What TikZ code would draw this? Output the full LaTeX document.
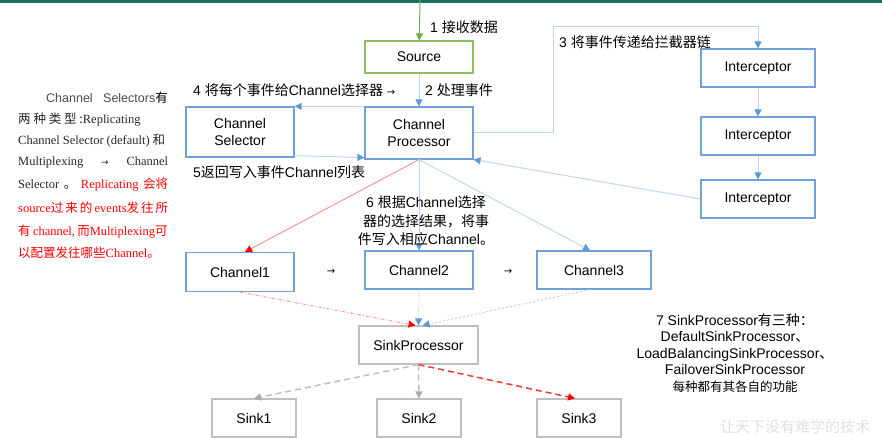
\documentclass[tikz,border=0pt]{standalone}
\usepackage{fontspec}
\setmainfont{Liberation Sans}
\newfontfamily\zh{Noto Sans CJK SC}
\newfontfamily\tm{Liberation Serif}
\newfontfamily\sym{DejaVu Sans}
\usetikzlibrary{arrows.meta}

\definecolor{boxblue}{RGB}{112,160,220}
\definecolor{lineblue}{RGB}{190,214,240}
\definecolor{tipblue}{RGB}{91,155,213}
\definecolor{boxgreen}{RGB}{140,192,98}
\definecolor{tipgreen}{RGB}{112,173,71}
\definecolor{boxgray}{RGB}{191,191,191}
\definecolor{tipgray}{RGB}{170,170,170}
\definecolor{linered}{RGB}{255,150,150}
\definecolor{topband}{RGB}{30,110,95}

\begin{document}
\begin{tikzpicture}[x=1pt,y=-1pt,
	box/.style={draw=boxblue,line width=1.2pt,minimum width=108pt,minimum height=38pt,align=center,inner sep=2pt,font=\fontsize{14}{17}\selectfont},
	lab/.style={inner sep=0pt,font=\fontsize{14}{17}\selectfont},
	side/.style={inner sep=0pt,anchor=west,font=\fontsize{12.5}{15}\selectfont},
	tip/.style={-{Triangle[length=7pt,width=7pt,color=#1]}},
	greenarr/.style={draw=tipgreen,line width=1pt,tip=tipgreen},
	bluearr/.style={draw=lineblue,line width=1pt,tip=tipblue},
	redarr/.style={draw=linered,line width=1pt,tip=red},
	bluedot/.style={bluearr,dash pattern=on 2pt off 2pt},
	reddot/.style={redarr,dash pattern=on 3pt off 2pt on 1pt off 2pt},
	graydash/.style={draw=boxgray,line width=1.5pt,dash pattern=on 6pt off 4pt,tip=tipgray},
	reddash/.style={draw=red!80,line width=1.5pt,dash pattern=on 6pt off 4pt,tip=red}]
	\useasboundingbox (0,0) rectangle (882,438);
	\fill[topband] (0,0) rectangle (882,3);

	\node[box,draw=boxgreen,minimum height=32pt] (src) at (419,57) {Source};
	\node[box,minimum height=50pt] (sel) at (240,132) {Channel\\Selector};
	\node[box,minimum height=52pt] (proc) at (419,133) {Channel\\Processor};
	\node[box,minimum width=114pt] (i1) at (758,68) {Interceptor};
	\node[box,minimum width=114pt] (i2) at (758,136) {Interceptor};
	\node[box,minimum width=114pt] (i3) at (758,199) {Interceptor};
	\node[box,minimum height=39pt] (c1) at (240,272) {Channel1};
	\node[box] (c2) at (419,270) {Channel2};
	\node[box,minimum width=114pt] (c3) at (594,270) {Channel3};
	\node[box,draw=boxgray,minimum width=119pt] (sp) at (418.5,345) {SinkProcessor};
	\node[box,draw=boxgray,minimum width=84pt] (s1) at (254,418) {Sink1};
	\node[box,draw=boxgray,minimum width=84pt] (s2) at (419,418) {Sink2};
	\node[box,draw=boxgray,minimum width=84pt] (s3) at (579,418) {Sink3};

	\coordinate (in) at (420,0);
	\coordinate (bend) at (553,27);

	\path (in) edge[greenarr] (src);
	\path (src) edge[bluearr] (proc);
	\path (proc.north west) edge[bluearr] (sel.north east);
	\path ([yshift=2pt]sel.south east) edge[bluearr] ([yshift=2pt]proc.south west);
	\draw[bluearr] (proc.east) -| (bend) -| (i1.north);
	\path (i1) edge[bluearr] (i2) (i2) edge[bluearr] (i3);
	\path (i3.west) edge[bluearr] (proc.south east);
	\path (proc.south) edge[redarr] ([xshift=5pt]c1.north);
	\path (proc.south) edge[bluearr] (c2.north) edge[bluearr] ([xshift=-4pt]c3.north);
	\path (c1.south) edge[reddot] ([xshift=-3pt]sp.north);
	\path (c2.south) edge[bluedot] (sp.north) ([xshift=-4pt]c3.south) edge[bluedot] ([xshift=4pt]sp.north);
	\path (sp.south) edge[graydash] (s1.north) edge[graydash] (s2.north);
	\path (sp.south) edge[reddash] ([xshift=-4pt]s3.north);

	\node[lab,anchor=west] (t1) at (430,27) {1 {\zh 接收数据}};
	\node[lab,anchor=west] (t2) at (425,90) {2 {\zh 处理事件}};
	\node[lab,anchor=west] (t3) at (559,42) {3 {\zh 将事件传递给拦截器链}};
	\node[lab,anchor=west] (t4) at (193,90) {4 {\zh 将每个事件给}Channel{\zh 选择器} {\sym\fontsize{10}{10}\selectfont →}};
	\node[lab,anchor=west] (t5) at (193,172) {5{\zh 返回写入事件}Channel{\zh 列表}};
	\node[lab,align=center,font=\fontsize{14}{18.5}\selectfont] (t6) at (426,221) {6 {\zh 根据}Channel{\zh 选择}\\{\zh 器的选择结果，将事}\\{\zh 件写入相应}Channel{\zh 。}};
	\node[lab,font=\sym\fontsize{10}{10}\selectfont] (a12) at (331,272) {→};
	\node[lab,font=\sym\fontsize{10}{10}\selectfont] (a23) at (508,272) {→};
	\node[lab,align=center,font=\fontsize{14}{16.5}\selectfont] (t7) at (735,353) {7 SinkProcessor{\zh 有三种：}\\DefaultSinkProcessor{\zh 、}\\LoadBalancingSinkProcessor{\zh 、}\\FailoverSinkProcessor\\{\zh\fontsize{12.5}{16.5}\selectfont 每种都有其各自的功能}};

	\node[side,anchor=east,text=black!70] (n1) at (168,98) {Channel\ \ \ Selectors{\zh\color{black} 有}};
	\node[side,text=black!85] (n2) at (18,120) {{\zh 两 种 类 型 :}\tm Replicating};
	\node[side,text=black!85] (n3) at (18,141) {\makebox[147pt][s]{\tm Channel Selector (default) {\zh 和}}};
	\node[side,text=black!85] (n4) at (18,163) {\makebox[150pt][s]{\tm Multiplexing {\sym\fontsize{9}{9}\selectfont →} Channel}};
	\node[side,text=black!85] (n5) at (18,185) {\makebox[150pt][s]{\tm Selector {\zh 。} \color{red}Replicating {\zh 会将}}};
	\node[side,text=red] (n6) at (18,208) {\makebox[150pt][s]{\tm source{\zh 过 来 的} events{\zh 发 往 所}}};
	\node[side,text=red] (n7) at (18,232) {\makebox[147pt][s]{{\zh 有} \tm channel, {\zh 而}Multiplexing{\zh 可}}};
	\node[side,text=red] (n8) at (18,253) {{\zh 以配置发往哪些}\tm Channel{\zh 。}};

	\node[anchor=west,inner sep=0pt,text=black!12,font=\zh\fontsize{15}{15}\selectfont] (wm) at (720,427) {让天下没有难学的技术};
\end{tikzpicture}
\end{document}
